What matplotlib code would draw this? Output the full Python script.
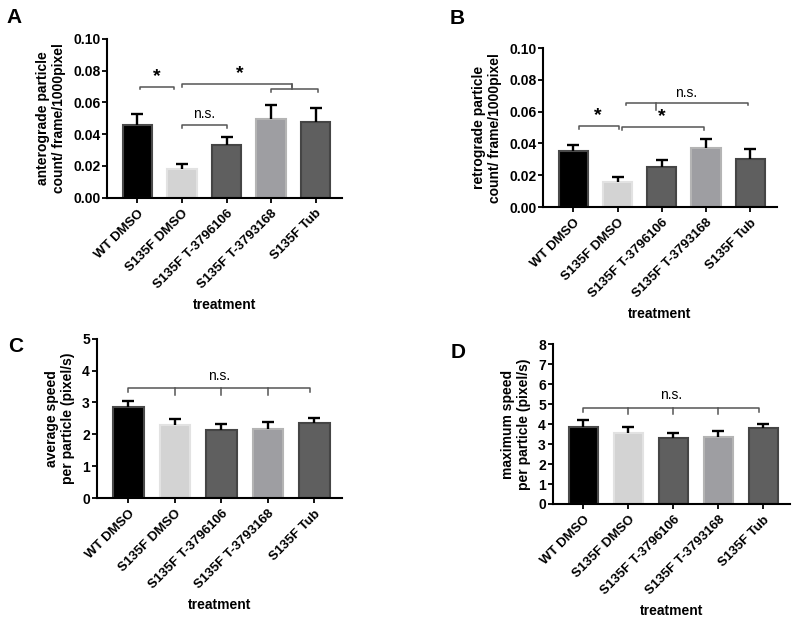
import matplotlib
matplotlib.use("Agg")
import matplotlib.pyplot as plt

plt.rcParams['font.family'] = ['Liberation Sans', 'DejaVu Sans']
plt.rcParams['font.weight'] = 'bold'

treatments = ["WT DMSO", "S135F DMSO", "S135F T-3796106", "S135F T-3793168", "S135F Tub"]
bar_colors = ["#000000", "#d3d3d3", "#5f5f5f", "#9e9ea2", "#5f5f5f"]
edge_colors = ["#4a4a4a", "#e2e2e2", "#454545", "#b4b4b4", "#454545"]

antero_mean = [0.046, 0.018, 0.0335, 0.0495, 0.048]
antero_err = [0.0065, 0.0032, 0.005, 0.0087, 0.0082]
retro_mean = [0.035, 0.0155, 0.025, 0.037, 0.030]
retro_err = [0.0042, 0.0035, 0.0048, 0.0058, 0.0065]
avg_mean = [2.85, 2.28, 2.14, 2.17, 2.34]
avg_err = [0.21, 0.20, 0.19, 0.23, 0.17]
max_mean = [3.86, 3.57, 3.29, 3.36, 3.80]
max_err = [0.36, 0.29, 0.27, 0.28, 0.22]

line_col = "#555555"


def drawBars(ax, means, errs, ylim, yticks, ylabel, fmt):
    xs = list(range(len(treatments)))
    ax.bar(xs, means, width=0.66, color=bar_colors, edgecolor=edge_colors, linewidth=1.5)
    # upper error only, black with a cap
    tops = [m + e for m, e in zip(means, errs)]
    ax.vlines(xs, means, tops, color='black', lw=1.7)
    ax.plot(xs, tops, ls='none', marker='_', ms=9, mew=1.7, color='black')
    ax.set_xlim(-0.68, 4.6)
    ax.set_ylim(*ylim)
    ax.set_yticks(yticks)
    ax.set_yticklabels([fmt.format(t) for t in yticks], fontsize=10, fontweight='bold')
    ax.set_xticks(xs)
    ax.set_xticklabels(treatments, rotation=45, ha='right', rotation_mode='anchor',
                       fontsize=9.5, fontweight='bold')
    ax.spines['top'].set_visible(False)
    ax.spines['right'].set_visible(False)
    ax.spines['left'].set_linewidth(1.5)
    ax.spines['bottom'].set_linewidth(1.5)
    ax.tick_params(width=1.3, length=3.5)
    ax.tick_params(axis='y', pad=1.5)
    ax.set_ylabel(ylabel, fontsize=10, fontweight='bold', labelpad=5)
    ax.set_xlabel("treatment", fontsize=10, fontweight='bold', labelpad=5)


def bracket(ax, x0, x1, y, drop, mids=(), middrop=None):
    if middrop is None:
        middrop = drop
    ax.plot([x0, x0, x1, x1], [y - drop, y, y, y - drop], color=line_col, lw=1.1)
    for m in mids:
        ax.plot([m, m], [y, y - middrop], color=line_col, lw=1.1)


fig = plt.figure(figsize=(8, 6.18), dpi=100)

axA = fig.add_axes([0.134, 0.680, 0.294, 0.257])
axB = fig.add_axes([0.679, 0.665, 0.292, 0.257])
axC = fig.add_axes([0.121, 0.194, 0.307, 0.258])
axD = fig.add_axes([0.691, 0.1845, 0.297, 0.2585])

drawBars(axA, antero_mean, antero_err, (0, 0.1), [0, 0.02, 0.04, 0.06, 0.08, 0.10],
         "anterograde particle\ncount/ frame/1000pixel", "{:.2f}")
drawBars(axB, retro_mean, retro_err, (0, 0.1), [0, 0.02, 0.04, 0.06, 0.08, 0.10],
         "retrograde particle\ncount/ frame/1000pixel", "{:.2f}")
drawBars(axC, avg_mean, avg_err, (0, 5), [0, 1, 2, 3, 4, 5],
         "average speed\nper particle (pixel/s)", "{:d}")
drawBars(axD, max_mean, max_err, (0, 8), [0, 1, 2, 3, 4, 5, 6, 7, 8],
         "maximum speed\nper particle (pixel/s)", "{:d}")

# panel A significance
bracket(axA, 0.05, 0.83, 0.070, 0.0018)
axA.text(0.44, 0.0712, "*", ha='center', va='bottom', fontsize=14)
bracket(axA, 1.0, 3.46, 0.0717, 0.0018)
bracket(axA, 3.0, 4.05, 0.0686, 0.0018, mids=[3.46], middrop=-0.0031)
axA.text(2.3, 0.0727, "*", ha='center', va='bottom', fontsize=14)
bracket(axA, 1.0, 2.01, 0.0459, 0.0018)
axA.text(1.5, 0.0485, "n.s.", ha='center', va='bottom', fontsize=10, fontweight='normal')

# panel B significance
bracket(axB, 0.13, 1.04, 0.051, 0.0018)
axB.text(0.55, 0.0522, "*", ha='center', va='bottom', fontsize=14)
bracket(axB, 1.11, 2.95, 0.0505, 0.0018)
axB.text(2.0, 0.0517, "*", ha='center', va='bottom', fontsize=14)
bracket(axB, 1.19, 3.94, 0.0658, 0.0018, mids=[1.87], middrop=0.0048)
axB.text(2.55, 0.0675, "n.s.", ha='center', va='bottom', fontsize=10, fontweight='normal')

# panel C significance
bracket(axC, 0.0, 3.9, 3.45, 0.12, mids=[1, 2, 3], middrop=0.22)
axC.text(1.95, 3.62, "n.s.", ha='center', va='bottom', fontsize=10, fontweight='normal')

# panel D significance
bracket(axD, 0.0, 3.9, 4.82, 0.2, mids=[1, 2, 3], middrop=0.3)
axD.text(1.95, 5.1, "n.s.", ha='center', va='bottom', fontsize=10, fontweight='normal')

for lab, x, y in [("A", 0.008, 0.987), ("B", 0.562, 0.985), ("C", 0.010, 0.455), ("D", 0.563, 0.445)]:
    fig.text(x, y, lab, fontsize=15, fontweight='bold', va='top')

fig.savefig("out.png", dpi=100)
